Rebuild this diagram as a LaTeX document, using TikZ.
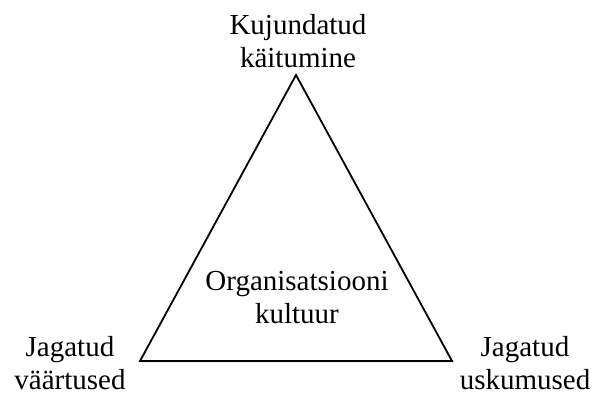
\documentclass[tikz,border=0pt]{standalone}
\usepackage{fontspec}
\setmainfont{Liberation Serif}
\usetikzlibrary{shadows}
\begin{document}
\begin{tikzpicture}[x=1pt,y=-1pt,
  lbl/.style={align=center,inner sep=0pt,font=\fontsize{29}{33}\selectfont},
  tri/.style={draw=black,fill=white,line width=1.8pt,line join=miter,
    drop shadow={opacity=0.12,shadow xshift=1.5pt,shadow yshift=-2pt}}]
\useasboundingbox (0,0) rectangle (592,396);
\coordinate (apex) at (296,75);
\coordinate (bl) at (140,361);
\coordinate (br) at (452,361);
\draw[tri] (apex) -- (bl) -- (br) -- cycle;
\node[lbl] (top) at (298,41.5) {Kujundatud\\käitumine};
\node[lbl] (mid) at (297,298) {Organisatsiooni\\kultuur};
\node[lbl] (left) at (70,363) {Jagatud\\väärtused};
\node[lbl] (right) at (525,363) {Jagatud\\uskumused};
\end{tikzpicture}
\end{document}
